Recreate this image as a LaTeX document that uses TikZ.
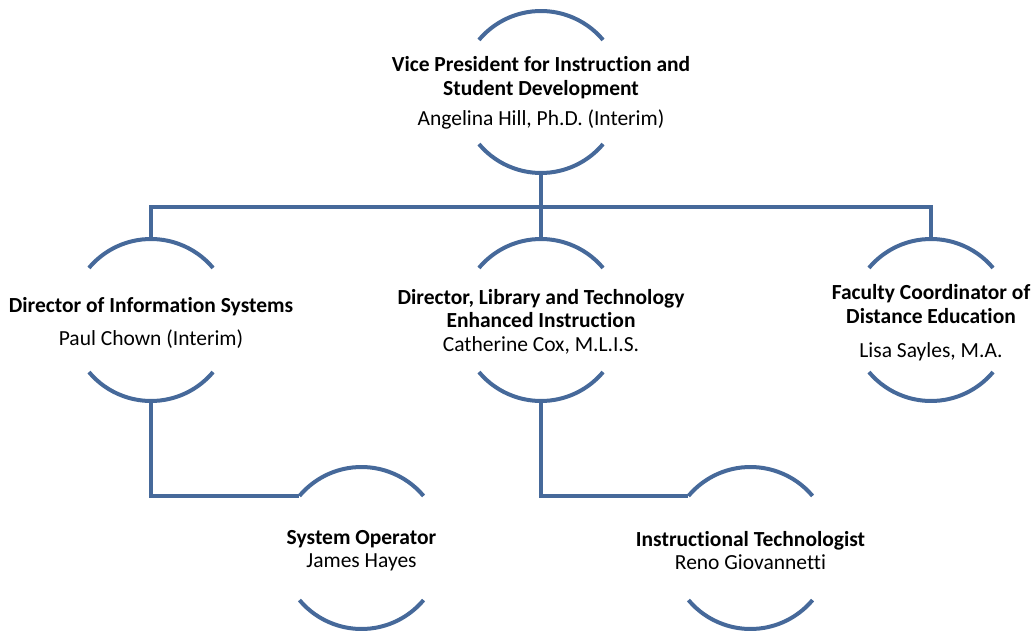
\documentclass[tikz,border=0pt]{standalone}
\usepackage{fontspec}
\setmainfont{Carlito}[Ligatures={NoCommon,NoRare}]
\definecolor{orgblue}{RGB}{70,105,154}
\tikzset{
  unit/.style={circle, minimum size=162pt, inner sep=0pt, outer sep=0pt},
  unittext/.style={align=center, font=\fontsize{21.5}{23.5}\selectfont, inner sep=0pt},
  rim/.style={draw=orgblue, line width=4pt},
  link/.style={draw=orgblue, line width=4pt},
}
\begin{document}
\begin{tikzpicture}[x=1pt,y=1pt]
  \useasboundingbox (0,0) rectangle (1032,630);

  % circles of the chart
  \node[unit] (vp)    at (541,538) {};
  \node[unit] (is)    at (151,310) {};
  \node[unit] (lib)   at (541,310) {};
  \node[unit] (dist)  at (931,310) {};
  \node[unit] (sysop) at (361.5,82) {};
  \node[unit] (tech)  at (750.5,82) {};

  % open rims, top and bottom
  \foreach \u in {vp,is,lib,dist,sysop,tech} {
    \draw[rim] (\u.40) arc(40:140:81);
    \draw[rim] (\u.220) arc(220:320:81);
  }

  % titles and names
  \node[unittext] (vp-text) at ([yshift=-1]vp.center)
    {\textbf{Vice President for Instruction and}\\\textbf{Student Development}\\[7pt]Angelina Hill, Ph.D. (Interim)};
  \node[unittext] (is-text) at ([yshift=-3]is.center)
    {\textbf{Director of Information Systems}\\[9pt]Paul Chown (Interim)};
  \node[unittext] (lib-text) at ([yshift=-1.5]lib.center)
    {\textbf{Director, Library and Technology}\\\textbf{Enhanced Instruction}\\Catherine Cox, M.L.I.S.};
  \node[unittext] (dist-text) at ([yshift=-3]dist.center)
    {\textbf{Faculty Coordinator of}\\\textbf{Distance Education}\\[11pt]Lisa Sayles, M.A.};
  \node[unittext] (sysop-text) at ([yshift=-2.5]sysop.center)
    {\textbf{System Operator}\\[-1pt]James Hayes};
  \node[unittext] (tech-text) at ([yshift=-2.5]tech.center)
    {\textbf{Instructional Technologist}\\[-1pt]Reno Giovannetti};

  % reporting lines
  \draw[link] (vp.south) -- ++(0,-34) coordinate (bus);
  \draw[link] (is.north) |- (bus) -| (dist.north);
  \draw[link] (bus) -- (lib.north);
  \draw[link] (is.south) |- (sysop.140);
  \draw[link] (lib.south) |- (tech.140);
\end{tikzpicture}
\end{document}
